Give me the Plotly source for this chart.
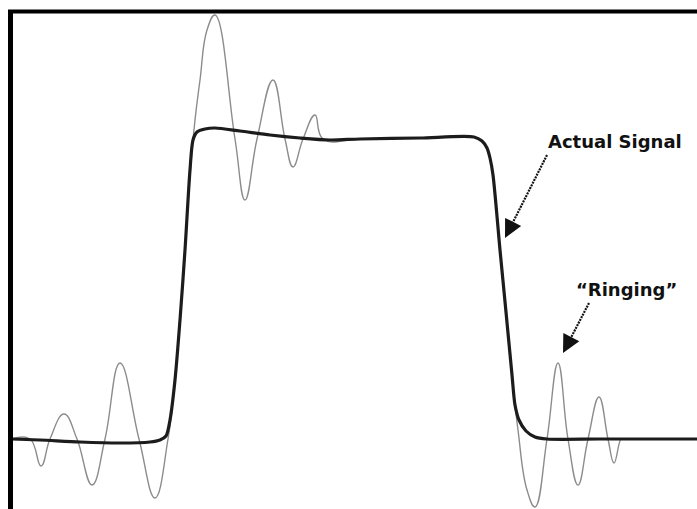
import plotly.graph_objects as go

# Time in ns, signal in volts
actual_t = [0, 2.8, 6.8, 10.8, 13.8, 14.8, 15.4, 15.8, 16.3, 16.8, 17.3, 17.8, 18.1, 18.5, 19.3, 20.3,
            22.8, 25.8, 28.8, 31.8, 34.8, 40.8, 46.2, 47.0, 47.5, 47.8, 48.1, 48.8, 49.4, 50.0, 50.3,
            50.7, 51.4, 52.3, 53.5, 58.8, 68.5]
actual_v = [0, -0.01, -0.03, -0.04, -0.03, -0.01, 0.03, 0.19, 0.59, 1.19, 1.89, 2.69, 2.99, 3.07, 3.10, 3.11,
            3.08, 3.04, 3.01, 2.99, 3.00, 3.01, 3.02, 2.98, 2.91, 2.81, 2.64, 1.89, 1.27, 0.64, 0.34,
            0.19, 0.08, 0.02, 0.0, 0.0, 0.0]

ring_t = [0, 1.8, 2.9, 3.8, 5.2, 6.5, 8.0, 9.3, 10.8, 12.7, 14.3, 15.6, 16.3, 16.8, 17.3, 17.8, 18.3,
          18.8, 19.5, 20.3, 22.3, 23.3, 24.5, 26.1, 27.3, 28.1, 29.1, 30.3, 31.1, 34.8, 40.8, 46.2,
          47.0, 47.5, 47.8, 48.1, 48.8, 49.4, 50.0, 50.6, 51.5, 52.3, 53.5, 54.6, 55.6, 56.6, 57.6,
          58.7, 59.6, 60.2, 60.9, 61.1]
ring_v = [0, 0, -0.27, 0, 0.25, 0, -0.46, 0, 0.76, 0, -0.59, 0, 0.59, 1.19, 1.89, 2.64, 3.19,
          3.59, 4.09, 4.24, 3.0, 2.39, 3.0, 3.59, 3.0, 2.72, 3.0, 3.24, 3.0, 3.0, 3.01, 3.02,
          2.98, 2.91, 2.81, 2.64, 1.89, 1.27, 0.64, 0.09, -0.51, -0.68, 0, 0.76, 0, -0.46, 0,
          0.42, 0, -0.24, 0, 0]

labels = ["Actual Signal", "\u201cRinging\u201d"]
label_pos = [(60.3, 2.98), (61.4, 1.50)]
arrow_start = [(53.5, 2.84), (57.7, 1.36)]
arrow_tip = [(49.3, 2.01), (55.1, 0.86)]

fig = go.Figure()
fig.add_trace(go.Scatter(x=ring_t, y=ring_v, mode="lines",
                         line=dict(color="#8c8c8c", width=1.4, shape="spline", smoothing=1.25),
                         showlegend=False, hoverinfo="skip"))
fig.add_trace(go.Scatter(x=actual_t, y=actual_v, mode="lines",
                         line=dict(color="#1c1c1c", width=3.2, shape="spline", smoothing=0.8),
                         showlegend=False, hoverinfo="skip"))

W, H = 697, 509
shapes = [
    dict(type="line", xref="paper", yref="paper", x0=10.5 / W, x1=10.5 / W, y0=0, y1=(H - 10) / H,
         line=dict(color="black", width=5)),
    dict(type="line", xref="paper", yref="paper", x0=8 / W, x1=1, y0=(H - 11.5) / H, y1=(H - 11.5) / H,
         line=dict(color="black", width=4)),
]
annotations = []
for lab, (lx, ly), (sx, sy), (tx, ty) in zip(labels, label_pos, arrow_start, arrow_tip):
    annotations.append(dict(x=lx, y=ly, text=lab, showarrow=False, xref="x", yref="y",
                            font=dict(family="DejaVu Sans", size=18, color="#111111", weight="bold")))
    # dashed shaft
    fx = tx + (sx - tx) * 0.13
    fy = ty + (sy - ty) * 0.13
    shapes.append(dict(type="line", xref="x", yref="y", x0=sx, y0=sy, x1=fx, y1=fy,
                       line=dict(color="#111111", width=2.2, dash="2px,1px")))
    # arrow head
    hx = tx + (sx - tx) * 0.16
    hy = ty + (sy - ty) * 0.16
    annotations.append(dict(x=tx, y=ty, ax=hx, ay=hy, axref="x", ayref="y", xref="x", yref="y",
                            text="", showarrow=True, arrowhead=2, arrowsize=1.8, arrowwidth=2,
                            arrowcolor="#111111", standoff=0))

fig.update_layout(
    width=W, height=H, margin=dict(l=0, r=0, t=0, b=0),
    paper_bgcolor="white", plot_bgcolor="white",
    xaxis=dict(range=[-1.2, 68.5], visible=False, fixedrange=True),
    yaxis=dict(range=[-0.70, 4.39], visible=False, fixedrange=True),
    shapes=shapes, annotations=annotations,
)
fig.write_html("out.html", config={"displayModeBar": False},
               post_script="document.body.style.margin='0';document.body.style.overflow='hidden';")
